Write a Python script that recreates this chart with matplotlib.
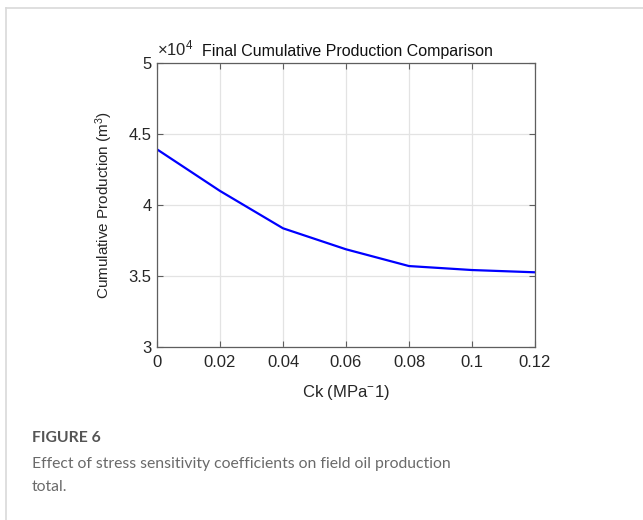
import matplotlib.pyplot as plt
from matplotlib.lines import Line2D

plt.rcParams["font.family"] = ["Liberation Sans", "DejaVu Sans"]
plt.rcParams["mathtext.fontset"] = "custom"
plt.rcParams["mathtext.rm"] = "Liberation Sans"
plt.rcParams["mathtext.it"] = "Liberation Sans"

# stress sensitivity coefficient (1/MPa) and final cumulative production (m^3)
ck = [0.0, 0.02, 0.04, 0.06, 0.08, 0.10, 0.12]
production = [43920, 40990, 38360, 36880, 35700, 35420, 35260]

x_ticks = [0, 0.02, 0.04, 0.06, 0.08, 0.1, 0.12]
x_tick_labels = ["0", "0.02", "0.04", "0.06", "0.08", "0.1", "0.12"]
y_ticks = [3, 3.5, 4, 4.5, 5]
y_tick_labels = ["3", "3.5", "4", "4.5", "5"]

axis_grey = "#262626"
caption_font = ["Lato", "DejaVu Sans"]

fig = plt.figure(figsize=(6.43, 5.2), dpi=100)
fig.patch.set_facecolor("white")

# card border along top and left
fig.add_artist(Line2D([6 / 643, 1.0], [1 - 7.5 / 520, 1 - 7.5 / 520],
                      color="#d9d9d9", lw=1.2, transform=fig.transFigure))
fig.add_artist(Line2D([6 / 643, 6 / 643], [0.0, 1 - 7.5 / 520],
                      color="#d9d9d9", lw=1.2, transform=fig.transFigure))

ax = fig.add_axes([157 / 643, 1 - 347 / 520, 378 / 643, 284 / 520])

ax.plot(ck, [p / 1e4 for p in production], color="#0000ff", lw=1.6)

ax.set_xlim(0, 0.12)
ax.set_ylim(3, 5)
ax.set_xticks(x_ticks)
ax.set_xticklabels(x_tick_labels)
ax.set_yticks(y_ticks)
ax.set_yticklabels(y_tick_labels)

ax.grid(True, color="#e3e3e3", lw=0.9)
ax.set_axisbelow(True)
for spine in ax.spines.values():
    spine.set_color("#5e5e5e")
    spine.set_linewidth(0.9)
ax.tick_params(direction="in", length=4, width=0.8, colors="#5e5e5e",
               labelcolor=axis_grey, labelsize=12, top=True, right=True)
ax.tick_params(axis="x", pad=6)
ax.tick_params(axis="y", pad=4)

ax.set_xlabel("Ck (MPa$^{-}$1)", fontsize=12, color=axis_grey, labelpad=9)
ax.set_ylabel("Cumulative Production (m$^3$)", fontsize=11, color=axis_grey,
              labelpad=10)

ax.text(0.0, 1.015, r"$\times$10$^4$", transform=ax.transAxes, fontsize=12,
        color=axis_grey, ha="left", va="bottom")
ax.text(0.505, 1.015, "Final Cumulative Production Comparison",
        transform=ax.transAxes, fontsize=11.5, color="#111111",
        ha="center", va="bottom")

# figure caption
fig.text(32 / 643, 1 - 438 / 520, "FIGURE 6", fontsize=11.3, fontweight="bold",
         color="#555555", family=caption_font, va="center")
fig.text(32 / 643, 1 - 475.5 / 520,
         "Effect of stress sensitivity coefficients on field oil production\ntotal.",
         fontsize=11.3, color="#6a6a6a", family=caption_font,
         va="center", linespacing=1.85)

fig.savefig("out.png", dpi=100, facecolor="white")
